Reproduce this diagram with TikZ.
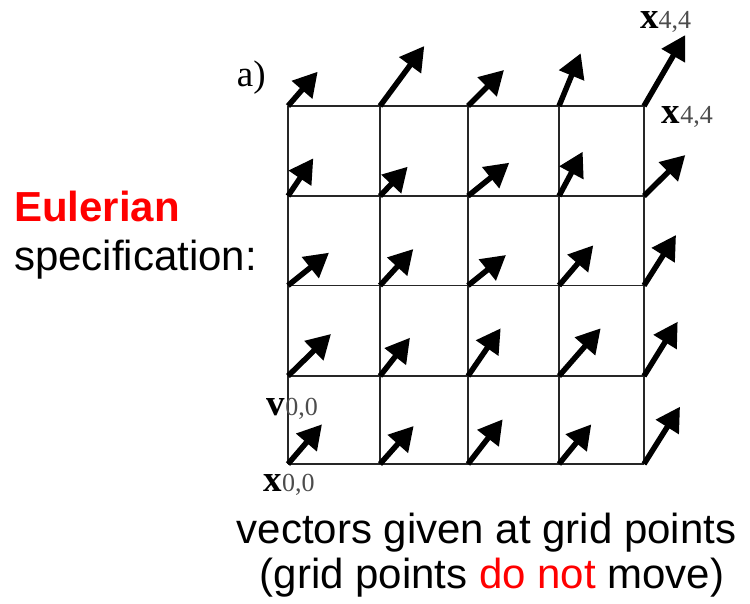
\documentclass[tikz,border=0pt]{standalone}
\usepackage{fontspec}
\setmainfont{Liberation Sans}
\newfontfamily\lserif{Liberation Serif}
\usetikzlibrary{arrows.meta}
\definecolor{eured}{RGB}{255,0,0}
\tikzset{
  gridline/.style={line width=1.5pt, black!85},
  vec/.style={line width=5.5pt, -{Triangle[length=24pt,width=26pt]}},
  sanstext/.style={inner sep=0pt, font=\fontsize{42}{50}\selectfont},
  seriflabel/.style={inner sep=0pt, anchor=base west, font=\lserif\fontsize{37}{40}\selectfont},
}
\newcommand{\veclab}[2]{\textbf{#1}\textcolor{black!70}{\fontsize{26}{30}\selectfont #2}}
\begin{document}
\begin{tikzpicture}[x=1pt,y=-1pt]
\useasboundingbox (0,0) rectangle (750,603);
% grid points
\foreach \i/\x in {0/288,1/380,2/468,3/559,4/644}
  \foreach \j/\y in {0/464,1/376,2/285.5,3/196,4/106}
    \coordinate (g\i\j) at (\x,\y);
% grid lines
\foreach \k in {0,...,4} {
  \draw[gridline] (g\k0) -- (g\k4);
  \draw[gridline] (g0\k) -- (g4\k);
}
% vectors
\foreach \i/\j/\tx/\ty in {
  0/4/317.7/71.7, 1/4/424.3/46, 2/4/504/70, 3/4/580.7/53.3, 4/4/685.3/35,
  0/3/313.3/158.3, 1/3/407.7/166.7, 2/3/509.3/162.7, 3/3/582.7/151.7, 4/3/685.3/155,
  0/2/329/252.7, 1/2/413.3/249, 2/2/506/255, 3/2/593.3/245.3, 4/2/676/235,
  0/1/331/334, 1/1/410/337.7, 2/1/500.7/328.3, 3/1/600.7/328.3, 4/1/677.7/321.7,
  0/0/322/424.3, 1/0/413.7/426, 2/0/502.7/419.3, 3/0/591.3/424.3, 4/0/680/406.7} {
  \coordinate (t\i\j) at (\tx,\ty);
  \draw[vec] (g\i\j) -- (t\i\j);
}
% serif labels
\node[seriflabel] (alabel) at (236.7,86.7) {a)};
\node[seriflabel] (xtop) at (640,28) {\veclab{x}{4,4}};
\node[seriflabel] (xright) at (661.7,123.3) {\veclab{x}{4,4}};
\node[seriflabel] (vzero) at (266.7,415) {\veclab{v}{0,0}};
\node[seriflabel] (xzero) at (263.3,491.7) {\veclab{x}{0,0}};
% sans texts
\node[sanstext, anchor=base west, text=eured] (euler) at (14,221.7) {\textbf{Eulerian}};
\node[sanstext, anchor=base west] (spec) at (14,270) {specification:};
\node[sanstext, anchor=base] (line1) at (486.5,543) {vectors given at grid points};
\node[sanstext, anchor=base] (line2) at (492,588) {(grid points \textcolor{eured}{do not} move)};
\end{tikzpicture}
\end{document}
